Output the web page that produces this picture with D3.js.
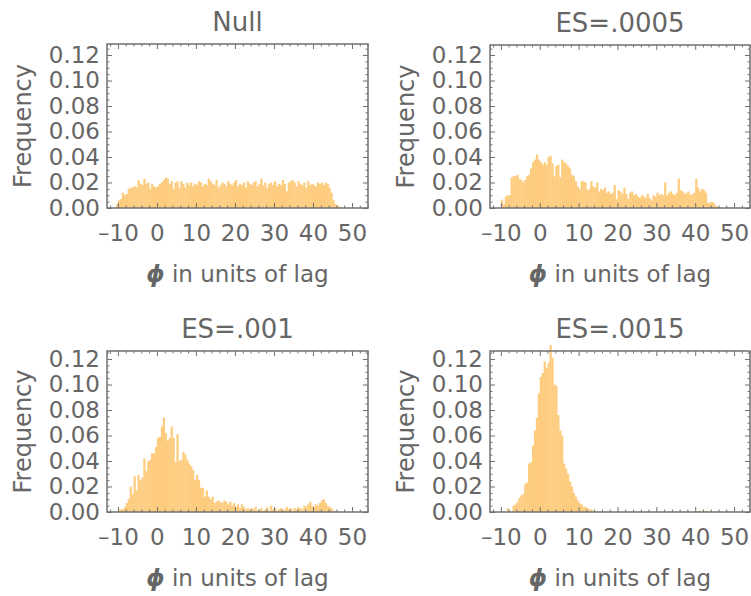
<!DOCTYPE html>
<html>
<head>
<meta charset="utf-8">
<script src="https://cdn.jsdelivr.net/npm/d3@7"></script>
<style>
  body { margin: 0; background: #fff; }
  text { font-family: "DejaVu Sans", sans-serif; fill: #666; }
</style>
</head>
<body>
<div id="chart"></div>
<script>

// histogram bins: start at -11, width 0.5
var binStart = -11;
var binWidth = 0.5;

var titles = ["Null", "ES=.0005", "ES=.001", "ES=.0015"];
var xTickLabels = [-10, 0, 10, 20, 30, 40, 50];
var yTickLabels = [0, 0.02, 0.04, 0.06, 0.08, 0.10, 0.12];

var nullFreq = [
  0, 0.003, 0.006, 0.007, 0.012, 0.010, 0.011, 0.015, 0.016, 0.016,
  0.017, 0.016, 0.022, 0.019, 0.018, 0.023, 0.019, 0.020, 0.015, 0.019,
  0.017, 0.016, 0.017, 0.019, 0.020, 0.022, 0.024, 0.023, 0.019, 0.021,
  0.015, 0.020, 0.021, 0.016, 0.021, 0.019, 0.016, 0.020, 0.018, 0.020,
  0.017, 0.019, 0.018, 0.021, 0.020, 0.017, 0.019, 0.018, 0.023, 0.021,
  0.019, 0.018, 0.022, 0.016, 0.018, 0.020, 0.019, 0.017, 0.021, 0.019,
  0.018, 0.020, 0.022, 0.017, 0.019, 0.018, 0.020, 0.016, 0.021, 0.019,
  0.018, 0.020, 0.021, 0.017, 0.019, 0.023, 0.018, 0.020, 0.016, 0.019,
  0.020, 0.018, 0.021, 0.017, 0.019, 0.018, 0.022, 0.019, 0.013, 0.020,
  0.021, 0.022, 0.020, 0.017, 0.021, 0.019, 0.018, 0.020, 0.016, 0.021,
  0.018, 0.019, 0.018, 0.017, 0.020, 0.019, 0.020, 0.018, 0.020, 0.019,
  0.016, 0.012, 0.006, 0.003, 0.002, 0.001, 0
];

var es0005Freq = [
  0, 0, 0.0066, 0.003, 0.009, 0.010, 0.010, 0.024, 0.025, 0.025,
  0.026, 0.023, 0.022, 0.020, 0.022, 0.025, 0.026, 0.031, 0.036, 0.038,
  0.042, 0.038, 0.036, 0.034, 0.036, 0.034, 0.040, 0.041, 0.035, 0.025,
  0.033, 0.034, 0.024, 0.038, 0.036, 0.035, 0.033, 0.031, 0.026, 0.025,
  0.021, 0.017, 0.015, 0.021, 0.021, 0.020, 0.014, 0.015, 0.021, 0.017,
  0.016, 0.020, 0.013, 0.015, 0.014, 0.016, 0.012, 0.013, 0.011, 0.012,
  0.018, 0.007, 0.014, 0.013, 0.011, 0.016, 0.011, 0.007, 0.012, 0.013,
  0.010, 0.011, 0.009, 0.008, 0.010, 0.009, 0.008, 0.011, 0.008, 0.006,
  0.010, 0.009, 0.012, 0.010, 0.011, 0.010, 0.020, 0.010, 0.012, 0.013,
  0.011, 0.010, 0.012, 0.023, 0.014, 0.013, 0.011, 0.012, 0.013, 0.010,
  0.011, 0.012, 0.023, 0.016, 0.013, 0.015, 0.014, 0.012, 0.004, 0.004,
  0.005, 0.004, 0.002, 0.001, 0, 0, 0
];

var es001Freq = [
  0, 0, 0.002, 0.002, 0.002, 0.004, 0.007, 0.010, 0.020, 0.014,
  0.028, 0.017, 0.029, 0.025, 0.027, 0.042, 0.032, 0.040, 0.041, 0.046,
  0.046, 0.051, 0.058, 0.059, 0.067, 0.074, 0.062, 0.056, 0.058, 0.067,
  0.058, 0.039, 0.061, 0.040, 0.041, 0.047, 0.045, 0.041, 0.038, 0.036,
  0.033, 0.025, 0.029, 0.025, 0.019, 0.019, 0.012, 0.017, 0.012, 0.010,
  0.012, 0.007, 0.008, 0.009, 0.008, 0.007, 0.009, 0.008, 0.006, 0.008,
  0.005, 0.007, 0.004, 0.006, 0.003, 0.006, 0.004, 0.002, 0.003, 0.002,
  0.003, 0.002, 0.004, 0.001, 0.002, 0.003, 0.001, 0.002, 0.004, 0.001,
  0.005, 0.002, 0.003, 0.001, 0.002, 0.003, 0.001, 0.002, 0.004, 0.002,
  0.003, 0.001, 0.003, 0.002, 0.004, 0.003, 0.002, 0.005, 0.004, 0.006,
  0.008, 0.005, 0.004, 0.006, 0.005, 0.007, 0.009, 0.010, 0.007, 0.005,
  0.004, 0.003, 0.001, 0, 0, 0, 0
];

var es0015Freq = [
  0, 0, 0, 0, 0, 0.003, 0, 0, 0.005, 0.006,
  0.008, 0.011, 0.013, 0.014, 0.022, 0.023, 0.038, 0.039, 0.052, 0.064,
  0.074, 0.093, 0.106, 0.109, 0.118, 0.113, 0.117, 0.131, 0.121, 0.100,
  0.099, 0.076, 0.064, 0.060, 0.038, 0.034, 0.030, 0.024, 0.020, 0.015,
  0.012, 0.009, 0.007, 0.006, 0.004, 0.004, 0.003, 0.002, 0.002, 0.001,
  0, 0, 0, 0, 0, 0, 0, 0, 0, 0,
  0, 0, 0, 0, 0, 0, 0, 0, 0, 0,
  0, 0, 0, 0, 0, 0, 0, 0, 0, 0,
  0, 0, 0, 0, 0, 0, 0, 0, 0, 0,
  0, 0, 0, 0, 0, 0, 0, 0, 0, 0,
  0, 0, 0, 0.0005, 0.001, 0, 0.0005, 0.001, 0.0005, 0,
  0, 0, 0, 0, 0, 0, 0
];

var allFreq = [nullFreq, es0005Freq, es001Freq, es0015Freq];

// canvas
var width = 751;
var height = 596;
var svg = d3.select("#chart")
  .append("svg")
  .attr("width", width)
  .attr("height", height);

// frame boxes of the four panels
var panels = [
  { left: 107, right: 368, top: 44, bottom: 208 },
  { left: 490, right: 750, top: 45, bottom: 208 },
  { left: 107, right: 368, top: 351, bottom: 512 },
  { left: 490, right: 750, top: 351, bottom: 512 }
];

var frameColor = "#707070";
var barColor = "#fdcc7e";
var unitY = 153 / 0.12;   // pixels per frequency unit

function styleAxis(g, size) {
  g.select(".domain").remove();
  g.selectAll(".tick line").attr("stroke", frameColor).attr("stroke-width", 1);
  g.selectAll(".tick text")
    .attr("fill", "#666")
    .style("font-family", "DejaVu Sans, sans-serif")
    .style("font-size", size + "px");
}

function drawPanel(p, values, title) {
  var g = svg.append("g");

  var x = d3.scaleLinear()
    .domain([-12.8, 54.1])
    .range([p.left, p.right]);
  var y = d3.scaleLinear()
    .domain([0, (p.bottom - p.top) / unitY])
    .range([p.bottom, p.top]);

  var xMinor = d3.range(-12, 55, 2).filter(function(v) { return v % 10 != 0; });
  var yMinor = d3.range(0, 0.13, 0.005).filter(function(v) {
    return Math.abs(v / 0.02 - Math.round(v / 0.02)) > 0.01;
  });

  // bars
  g.selectAll("rect.bar")
    .data(values)
    .enter()
    .append("rect")
    .attr("class", "bar")
    .attr("x", function(d, i) { return x(binStart + i * binWidth); })
    .attr("width", function(d, i) {
      return x(binStart + (i + 1) * binWidth) - x(binStart + i * binWidth) + 0.3;
    })
    .attr("y", function(d) { return y(d); })
    .attr("height", function(d) { return y(0) - y(d); })
    .attr("fill", barColor);

  // bottom axis with labels
  g.append("g")
    .attr("transform", "translate(0," + p.bottom + ")")
    .call(d3.axisBottom(x).tickValues(xTickLabels).tickSize(-5).tickPadding(17)
      .tickFormat(function(d) { return d < 0 ? "\u2013" + (-d) : d; }))
    .call(styleAxis, 23);
  g.append("g")
    .attr("transform", "translate(0," + p.bottom + ")")
    .call(d3.axisBottom(x).tickValues(xMinor).tickSize(-2.5).tickFormat(""))
    .call(styleAxis, 23);
  // top mirrored ticks
  g.append("g")
    .attr("transform", "translate(0," + p.top + ")")
    .call(d3.axisTop(x).tickValues(xTickLabels).tickSize(-5).tickFormat(""))
    .call(styleAxis, 23);
  g.append("g")
    .attr("transform", "translate(0," + p.top + ")")
    .call(d3.axisTop(x).tickValues(xMinor).tickSize(-2.5).tickFormat(""))
    .call(styleAxis, 23);

  // left axis with labels
  g.append("g")
    .attr("transform", "translate(" + p.left + ",0)")
    .call(d3.axisLeft(y).tickValues(yTickLabels).tickSize(-5).tickPadding(7)
      .tickFormat(d3.format(".2f")))
    .call(styleAxis, 23);
  g.append("g")
    .attr("transform", "translate(" + p.left + ",0)")
    .call(d3.axisLeft(y).tickValues(yMinor).tickSize(-2.5).tickFormat(""))
    .call(styleAxis, 23);
  // right mirrored ticks
  g.append("g")
    .attr("transform", "translate(" + p.right + ",0)")
    .call(d3.axisRight(y).tickValues(yTickLabels).tickSize(-5).tickFormat(""))
    .call(styleAxis, 23);
  g.append("g")
    .attr("transform", "translate(" + p.right + ",0)")
    .call(d3.axisRight(y).tickValues(yMinor).tickSize(-2.5).tickFormat(""))
    .call(styleAxis, 23);

  // frame
  g.append("rect")
    .attr("x", p.left)
    .attr("y", p.top)
    .attr("width", p.right - p.left)
    .attr("height", p.bottom - p.top)
    .attr("fill", "none")
    .attr("stroke", frameColor)
    .attr("stroke-width", 1.5);

  // title
  g.append("text")
    .attr("x", (p.left + p.right) / 2)
    .attr("y", p.top - 13)
    .attr("text-anchor", "middle")
    .style("font-size", "26px")
    .text(title);

  // x label
  var xl = g.append("text")
    .attr("x", (p.left + p.right) / 2)
    .attr("y", p.bottom + 74)
    .attr("text-anchor", "middle")
    .style("font-size", "23px");
  xl.append("tspan")
    .style("font-weight", "bold")
    .style("font-style", "italic")
    .text("\u03d5");
  xl.append("tspan").text(" in units of lag");

  // y label
  g.append("text")
    .attr("transform", "translate(" + (p.left - 76) + "," + ((p.top + p.bottom) / 2) + ")rotate(-90)")
    .attr("text-anchor", "middle")
    .style("font-size", "24px")
    .text("Frequency");
}

for (var k = 0; k < 4; k++) {
  drawPanel(panels[k], allFreq[k], titles[k]);
}

</script>
</body>
</html>
